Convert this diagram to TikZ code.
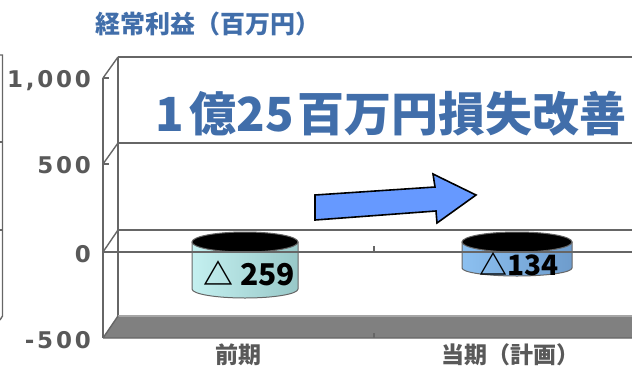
\documentclass[tikz,border=0pt]{standalone}
\usepackage{fontspec}
\setmainfont{Noto Sans CJK JP}
\newfontfamily\numfont[LetterSpace=12]{DejaVu Sans}
\usepackage{xcolor}
\usepackage{tikz}
\usetikzlibrary{positioning,calc}
\definecolor{titleblue}{HTML}{416EAA}
\definecolor{axisgray}{HTML}{666666}
\definecolor{labelgray}{HTML}{595959}
\definecolor{floorgray}{HTML}{808080}
\definecolor{arrowblue}{HTML}{6699FF}
\definecolor{cylaleft}{HTML}{C4F0F0}
\definecolor{cylamid}{HTML}{D4FFFF}
\definecolor{cylaright}{HTML}{98C8C8}
\definecolor{cylbleft}{HTML}{8CC0F0}
\definecolor{cylbmid}{HTML}{A0D0FF}
\definecolor{cylbright}{HTML}{6E9CCC}

\begin{document}
\begin{tikzpicture}[
    x=1pt, y=-1pt,
    grid/.style={axisgray, line width=1.4pt},
    ylab/.style={anchor=east, inner sep=0pt, text=labelgray, font=\numfont\bfseries\fontsize{23}{23}\selectfont},
    xlab/.style={inner sep=0pt, text=labelgray, font=\bfseries\fontsize{23}{23}\selectfont},
    barlab/.style={inner sep=0pt, text=black, font=\bfseries\fontsize{30}{30}\selectfont},
    cyltop/.style={fill=black, draw=axisgray, line width=1pt}
]
    \useasboundingbox (0,0) rectangle (632,368);

    % cut-off frame of the chart on the left
    \draw[grid] (0,55) -- (2.5,55) -- (2.5,316) -- (0,320);
    \draw[grid] (0,142) -- (2.5,142);
    \draw[grid] (0,230) -- (2.5,230);

    % walls
    \coordinate (fa) at (103,78);  \coordinate (ba) at (118,57);
    \coordinate (fb) at (103,164); \coordinate (bb) at (118,143);
    \coordinate (fc) at (103,252); \coordinate (bc) at (118,230);
    \coordinate (fd) at (103,338); \coordinate (bd) at (118,316);
    \draw[grid] (ba) -- (632,57);
    \draw[grid] (bb) -- (632,143);
    \draw[grid] (bc) -- (632,230);
    \draw[grid] (ba) -- (bd);
    \draw[grid] (fa) -- (fd);
    \draw[grid] (fa) -- (ba) (fb) -- (bb) (fc) -- (bc);
    \draw[grid] (fa) -- ++(6,0) (fb) -- ++(6,0);

    % floor
    \fill[floorgray] (bd) -- (632,316) -- (632,338) -- (fd) -- cycle;
    \draw[line width=1.6pt, gray!70] (bd) -- (632,316);
    \draw[grid] (fd) -- (632,338) (bd) -- (fd);
    \draw[grid] (374,333) -- (374,338);

    % cylinders
    \path[left color=cylaleft, middle color=cylamid, right color=cylaright, draw=axisgray, line width=1pt]
        (192,242) -- (192,289) arc[start angle=180, end angle=0, x radius=53, y radius=9] -- (298,242) -- cycle;
    \draw[cyltop] (245,242) ellipse[x radius=53, y radius=10];
    \path[left color=cylbleft, middle color=cylbmid, right color=cylbright, draw=axisgray, line width=1pt]
        (462,242) -- (462,268) arc[start angle=180, end angle=0, x radius=55, y radius=8] -- (572,242) -- cycle;
    \draw[cyltop] (517,242) ellipse[x radius=55, y radius=10];

    % front zero line
    \draw[grid] (fc) -- (632,252);
    \draw[grid] (374,246) -- (374,252);

    % arrow
    \draw[fill=arrowblue, line width=1.6pt, line join=miter]
        (315,195) -- (435,187) -- (433,174) -- (476,195) -- (437,223) -- (436,211) -- (315,220) -- cycle;

    % texts
    \node[text=titleblue, inner sep=0pt, font=\bfseries\fontsize{25}{25}\selectfont] (title) at (208,24) {経常利益（百万円）};
    \node[anchor=west, inner sep=0pt, text=titleblue, font=\bfseries\fontsize{47}{47}\selectfont] (gain) at (155,114) {1\kern6pt 億25\kern3pt 百万円損失改善};

    \node[ylab] (y1000) at (91,81) {1,000};
    \node[ylab] (y500) at (91,165) {500};
    \node[ylab] (y0) at (91,254) {0};
    \node[ylab] (ym500) at (91,340) {-500};

    \node[barlab] (prev) at (249,273) {△ 259};
    \node[barlab, font=\bfseries\fontsize{28}{28}\selectfont] (plan) at (519,264) {△134};

    \node[xlab] (catprev) at (238,355) {前期};
    \node[xlab] (catplan) at (510,355) {当期（計画）};
\end{tikzpicture}
\end{document}
